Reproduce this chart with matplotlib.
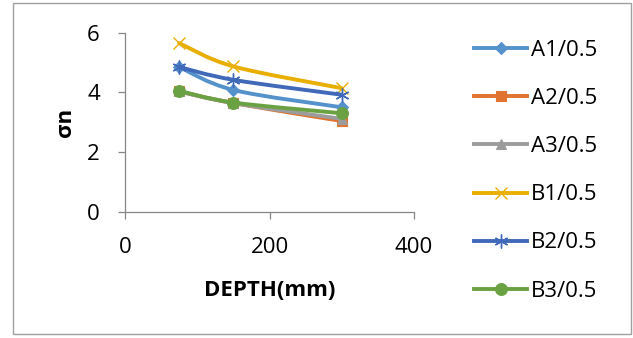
import numpy as np
import matplotlib
matplotlib.use("Agg")
import matplotlib.pyplot as plt
from matplotlib.path import Path
from matplotlib.patches import PathPatch, Rectangle
from matplotlib.lines import Line2D

plt.rcParams["font.family"] = ["Open Sans", "DejaVu Sans"]

depth = [75, 150, 300]
labels = ["A1/0.5", "A2/0.5", "A3/0.5", "B1/0.5", "B2/0.5", "B3/0.5"]
a1 = [4.85, 4.08, 3.50]
a2 = [4.03, 3.64, 3.04]
a3 = [4.03, 3.64, 3.11]
b1 = [5.65, 4.87, 4.14]
b2 = [4.85, 4.42, 3.92]
b3 = [4.05, 3.66, 3.30]
series = [a1, a2, a3, b1, b2, b3]

colors = ["#5592CC", "#E07330", "#9C9C9C", "#E8AE00", "#4169BA", "#6AA243"]
markers = ["D", "s", "^", "x", (6, 2, 0), "o"]
msizes = [6.5, 7.5, 7.5, 9, 10, 8.5]


def smooth_path(xs, ys):
    # excel style smoothed line: catmull-rom as cubic beziers
    pts = np.column_stack([xs, ys]).astype(float)
    verts = [pts[0]]
    codes = [Path.MOVETO]
    n = len(pts)
    for i in range(n - 1):
        p0 = pts[i - 1] if i > 0 else pts[i]
        p1 = pts[i]
        p2 = pts[i + 1]
        p3 = pts[i + 2] if i + 2 < n else pts[i + 1]
        c1 = p1 + (p2 - p0) / 6
        c2 = p2 - (p3 - p1) / 6
        verts += [c1, c2, p2]
        codes += [Path.CURVE4] * 3
    return Path(verts, codes)


fig = plt.figure(figsize=(6.33, 3.38), dpi=100)
fig.patches.append(Rectangle((13 / 633, 4 / 338), 618 / 633, 331 / 338,
                             transform=fig.transFigure, fill=False,
                             edgecolor="#A0A0A0", lw=1))
ax = fig.add_axes([125 / 633, 1 - 211.7 / 338, 289 / 633, 179 / 338])

handles = []
for i, (ys, lab) in enumerate(zip(series, labels)):
    z = 2 + i
    ax.add_patch(PathPatch(smooth_path(depth, ys), fill=False,
                           edgecolor=colors[i], lw=2.8, capstyle="round",
                           joinstyle="round", zorder=z))
    mew = 1.0 if markers[i] in ("x",) or isinstance(markers[i], tuple) else 0.8
    ax.plot(depth, ys, linestyle="none", marker=markers[i], ms=msizes[i],
            color=colors[i], mec=colors[i], mew=mew, zorder=z + 0.5)
    handles.append(Line2D([], [], color=colors[i], lw=2.8, marker=markers[i],
                          ms=msizes[i], mec=colors[i], mew=mew))

ax.set_xlim(0, 400)
ax.set_ylim(0, 6)
ax.set_xticks([0, 200, 400])
ax.set_yticks([0, 2, 4, 6])
for s in ["top", "right"]:
    ax.spines[s].set_visible(False)
for s in ["left", "bottom"]:
    ax.spines[s].set_color("#868686")
    ax.spines[s].set_linewidth(0.9)
ax.tick_params(direction="out", length=5, width=0.9, color="#868686",
               labelsize=16)
ax.tick_params(axis="x", pad=13)
ax.tick_params(axis="y", pad=13)
ax.set_xlabel("DEPTH(mm)", fontsize=16, fontweight="bold", labelpad=16)
ax.set_ylabel("σn", fontsize=16, fontweight="bold", labelpad=8)

fig.legend(handles=handles, labels=labels, loc="upper left",
           bbox_to_anchor=(474 / 633, 1 - 40 / 338), frameon=False,
           fontsize=16, handlelength=2.4, handletextpad=0.15,
           labelspacing=1.22, borderpad=0, borderaxespad=0)

fig.savefig("out.png", dpi=100)
